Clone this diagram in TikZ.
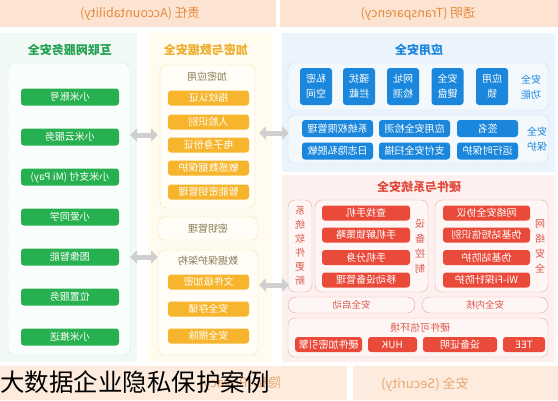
\documentclass[tikz,border=0pt]{standalone}
\usepackage{fontspec}
\usepackage{graphicx}
\setmainfont{Noto Sans CJK SC}
\usetikzlibrary{arrows.meta}
\newcommand{\R}[1]{\reflectbox{#1}}
\newcommand{\mybtn}[4]{\node[#1] (#2) at (#3) {}; \node[btxt] (#2t) at (#3) {\R{#4}};}
\definecolor{bandA}{HTML}{FDE4D2}
\definecolor{bandT}{HTML}{E58A3C}
\definecolor{bandB}{HTML}{FDEBDD}
\definecolor{bandBT}{HTML}{E9A870}
\definecolor{gBg}{HTML}{F1F9F5}
\definecolor{gBtn}{HTML}{27B04F}
\definecolor{gHd}{HTML}{23A050}
\definecolor{gBd}{HTML}{B4D9C2}
\definecolor{yBg}{HTML}{FFFBEE}
\definecolor{yBtn}{HTML}{F6B52C}
\definecolor{yHd}{HTML}{ECAE2E}
\definecolor{yBd}{HTML}{F2DFAE}
\definecolor{yLb}{HTML}{8A7A58}
\definecolor{bBg}{HTML}{EBF4FC}
\definecolor{bBtn}{HTML}{1B87DC}
\definecolor{bBd}{HTML}{9FC9EA}
\definecolor{rBg}{HTML}{FDF0EF}
\definecolor{rBtn}{HTML}{EA4A3A}
\definecolor{rHd}{HTML}{E14B3F}
\definecolor{rBd}{HTML}{EBA7A1}
\definecolor{rTx}{HTML}{D95A4E}
\definecolor{arr}{HTML}{CFCFCF}
\begin{document}
\begin{tikzpicture}[x=1pt,y=-1pt,
  btn/.style={rounded corners=3pt, inner sep=0pt},
  btxt/.style={text=white, font=\fontsize{10}{12}\selectfont},
  sqtxt/.style={text=white, align=center, font=\fontsize{10}{15}\selectfont},
  gbtn/.style={btn, fill=gBtn, minimum width=98pt, minimum height=17pt},
  ybtn/.style={btn, fill=yBtn, minimum width=81pt, minimum height=15pt},
  bsq/.style={btn, fill=bBtn, minimum width=32pt, minimum height=37pt},
  bbtn/.style={btn, fill=bBtn, minimum height=17pt},
  rbtn/.style={btn, fill=rBtn, minimum height=15pt},
  hd/.style={font=\bfseries\fontsize{12}{14}\selectfont},
  lbl/.style={font=\fontsize{10}{12}\selectfont},
  vlbl/.style={align=center, inner sep=0pt, font=\fontsize{10}{15}\selectfont},
  fatarrow/.style={draw=arr, line width=5pt,
    {Triangle[width=13pt,length=7pt]}-{Triangle[width=13pt,length=7pt]}}
]
\useasboundingbox (0,0) rectangle (558,400);
% top and bottom bands
\fill[bandA] (0,0) rectangle (276,27);
\fill[bandA] (280,0) rectangle (558,27);
\node[text=bandT, font=\fontsize{12.5}{14}\selectfont] (acc) at (140,14) {\R{责任 (Accountability)}};
\node[text=bandT, font=\fontsize{12.5}{14}\selectfont] (tra) at (418,14) {\R{透明 (Transparency)}};
\fill[bandB] (0,366) rectangle (347,400);
\fill[bandB] (353,366) rectangle (558,400);
\node[text=bandBT, font=\fontsize{13}{15}\selectfont] (pri) at (240,384) {\R{隐私 (Privacy)}};
\node[text=bandBT, font=\fontsize{13}{15}\selectfont] (sec) at (425,384) {\R{安全 (Security)}};

% left column
\fill[gBg] (0,33) rectangle (137,362);
\node[hd, text=gHd] (gh) at (70,50) {\R{互联网服务安全}};
\draw[gBd, dash pattern=on 1.2pt off 1.2pt, rounded corners=6pt, fill=white!60!gBg] (8,63) rectangle (130,355);
\mybtn{gbtn}{g1}{70,97}{小米账号}
\mybtn{gbtn}{g2}{70,137}{小米云服务}
\mybtn{gbtn}{g3}{70,177}{小米支付 (Mi Pay)}
\mybtn{gbtn}{g4}{70,217}{小爱同学}
\mybtn{gbtn}{g5}{70,257}{图像智能}
\mybtn{gbtn}{g6}{70,297}{位置服务}
\mybtn{gbtn}{g7}{70,337}{小米推送}

% middle column
\fill[yBg] (148,33) rectangle (272,362);
\node[hd, text=yHd] (yh) at (206,50) {\R{加密与数据安全}};
\draw[yBd, rounded corners=7pt, fill=white!50!yBg] (160,65) rectangle (255,208);
\node[lbl, text=yLb] (yl1) at (207,77) {\R{加密应用}};
\mybtn{ybtn}{ya1}{208.5,98}{指纹认证}
\mybtn{ybtn}{ya2}{208.5,122}{人脸识别}
\mybtn{ybtn}{ya3}{208.5,145}{电子身份证}
\mybtn{ybtn}{ya4}{208.5,168}{敏感数据保护}
\mybtn{ybtn}{ya5}{208.5,192}{智能密钥管理}
\draw[yBd, rounded corners=7pt, fill=white!50!yBg] (158,217) rectangle (258,240);
\node[lbl, text=yLb] (yl2) at (208,228.5) {\R{密钥管理}};
\draw[yBd, rounded corners=7pt, fill=white!50!yBg] (158,250) rectangle (258,355);
\node[lbl, text=yLb] (yl3) at (208,261) {\R{数据保护架构}};
\mybtn{ybtn}{yb1}{208.5,282}{文件级加密}
\mybtn{ybtn}{yb2}{208.5,309}{安全存储}
\mybtn{ybtn}{yb3}{208.5,336}{安全擦除}

% right top: application security
\fill[bBg] (282,33) rectangle (555,172);
\node[hd, text=bBtn] (bh) at (419,50) {\R{应用安全}};
\draw[bBd, dash pattern=on 1.2pt off 1.2pt, rounded corners=6pt, fill=white!40!bBg] (288,63) rectangle (548,110);
\node[vlbl, text=bBtn] (bl1) at (531,87) {\R{安全}\\\R{功能}};
\foreach \a/\b/\xx [count=\i] in {私密/空间/316,骚扰/拦截/359,网址/检测/403,安全/键盘/447.5,应用/锁/492}
  {\node[bsq] (bs\i) at (\xx,86.5) {};
   \node[sqtxt] (bs\i t) at (\xx,86.5) {\R{\a}\\\R{\b}};}
\draw[bBd, dash pattern=on 1.2pt off 1.2pt, rounded corners=6pt, fill=white!40!bBg] (288,115) rectangle (548,163);
\node[vlbl, text=bBtn] (bl2) at (537,139) {\R{安全}\\\R{保护}};
\mybtn{bbtn, minimum width=71pt}{bp1}{337.5,128.5}{系统权限管理}
\mybtn{bbtn, minimum width=71pt}{bp2}{337.5,151}{日志隐私脱敏}
\mybtn{bbtn, minimum width=71pt}{bp3}{414.5,128.5}{应用安全检测}
\mybtn{bbtn, minimum width=71pt}{bp4}{414.5,151}{支付安全扫描}
\mybtn{bbtn, minimum width=61pt}{bp5}{487.5,128.5}{签名}
\mybtn{bbtn, minimum width=61pt}{bp6}{487.5,151}{运行时保护}

% right bottom: hardware and system security
\fill[rBg] (282,175) rectangle (555,362);
\node[hd, text=rHd] (rh) at (419,187) {\R{硬件与系统安全}};
\draw[rBd, rounded corners=7pt, fill=white!40!rBg] (435,200) rectangle (548,292);
\node[vlbl, text=rTx] (rl1) at (540,246) {\R{网}\\\R{络}\\\R{安}\\\R{全}};
\mybtn{rbtn, minimum width=87pt}{rn1}{486.5,213}{网络安全协议}
\mybtn{rbtn, minimum width=87pt}{rn2}{486.5,235}{伪基站短信识别}
\mybtn{rbtn, minimum width=87pt}{rn3}{486.5,257.5}{伪基站防护}
\mybtn{rbtn, minimum width=87pt}{rn4}{486.5,280}{Wi-Fi探针防护}
\draw[rBd, rounded corners=7pt, fill=white!40!rBg] (315,200) rectangle (428,292);
\node[vlbl, text=rTx] (rl2) at (420,246) {\R{设}\\\R{备}\\\R{控}\\\R{制}};
\mybtn{rbtn, minimum width=88pt}{rd1}{366,213}{查找手机}
\mybtn{rbtn, minimum width=88pt}{rd2}{366,235}{手机解锁策略}
\mybtn{rbtn, minimum width=88pt}{rd3}{366,257.5}{手机分身}
\mybtn{rbtn, minimum width=88pt}{rd4}{366,280}{移动设备管理}
\draw[rBd, rounded corners=7pt, fill=white!40!rBg] (288,200) rectangle (312,292);
\node[vlbl, text=rTx, font=\fontsize{10}{14}\selectfont] (rl3) at (300,246) {\R{系}\\\R{统}\\\R{软}\\\R{件}\\\R{更}\\\R{新}};
\draw[rBd, rounded corners=8pt, fill=white!40!rBg] (288,297) rectangle (415,313);
\node[lbl, text=rTx, font=\fontsize{9.5}{11}\selectfont] (rs1) at (351.5,305) {\R{安全启动}};
\draw[rBd, rounded corners=8pt, fill=white!40!rBg] (422,297) rectangle (548,313);
\node[lbl, text=rTx, font=\fontsize{9.5}{11}\selectfont] (rs2) at (485,305) {\R{安全内核}};
\draw[rBd, rounded corners=7pt, fill=white!40!rBg] (288,318) rectangle (548,357);
\node[lbl, text=rTx] (rl4) at (420,327.5) {\R{硬件可信环境}};
\mybtn{rbtn, minimum width=67pt}{rh1}{328.5,344.5}{硬件加密引擎}
\mybtn{rbtn, minimum width=49pt}{rh2}{392.5,344.5}{HUK}
\mybtn{rbtn, minimum width=74pt}{rh3}{460,344.5}{设备证明}
\mybtn{rbtn, minimum width=42pt}{rh4}{524,344.5}{TEE}

% arrows
\coordinate (a1l) at (130,135); \coordinate (a1r) at (158,135);
\coordinate (a2l) at (130,257); \coordinate (a2r) at (158,257);
\coordinate (a3l) at (259,133); \coordinate (a3r) at (289,133);
\coordinate (a4l) at (259,285); \coordinate (a4r) at (289,285);
\draw[fatarrow] (a1l) -- (a1r);
\draw[fatarrow] (a2l) -- (a2r);
\draw[fatarrow] (a3l) -- (a3r);
\draw[fatarrow] (a4l) -- (a4r);

% caption
\node[anchor=west, inner sep=0pt, font=\fontsize{24.5}{26}\selectfont] (cap) at (0,382) {大数据企业隐私保护案例};
\end{tikzpicture}
\end{document}
